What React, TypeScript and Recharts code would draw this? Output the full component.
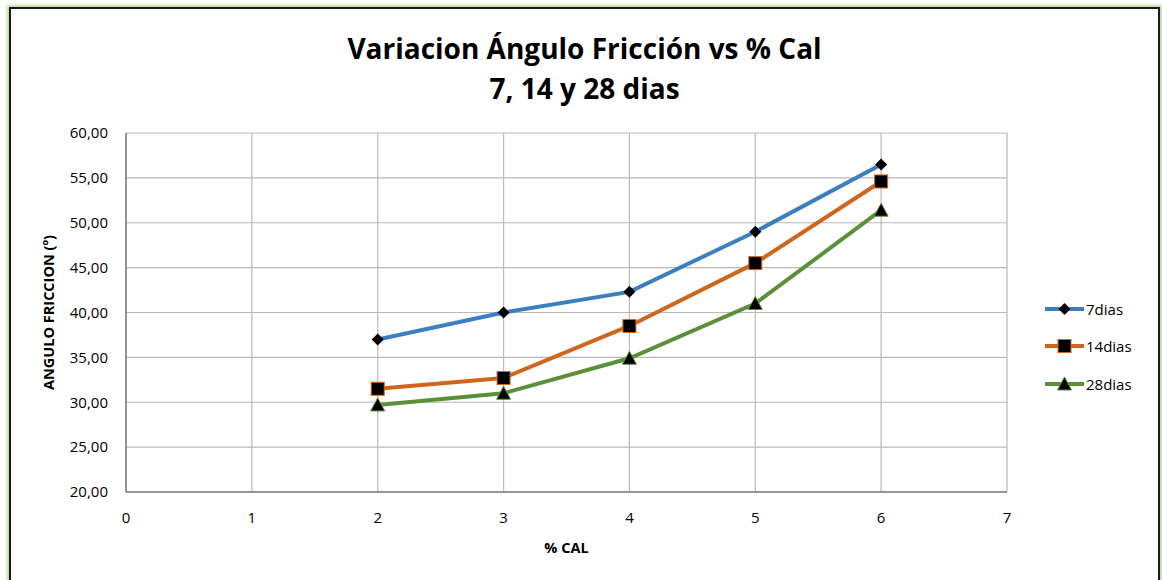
import React from 'react'
import { LineChart, Line, XAxis, YAxis, CartesianGrid, Legend } from 'recharts'

const pctCal = [2, 3, 4, 5, 6]
const dias7 = [37.0, 40.0, 42.3, 49.0, 56.5]
const dias14 = [31.5, 32.7, 38.5, 45.5, 54.6]
const dias28 = [29.7, 31.0, 34.9, 41.0, 51.4]
const xTicks = [0, 1, 2, 3, 4, 5, 6, 7]
const yTicks = [20, 25, 30, 35, 40, 45, 50, 55, 60]

const data = pctCal.map((x, i) => ({ x, d7: dias7[i], d14: dias14[i], d28: dias28[i] }))

const FONT = '"Open Sans", "Noto Sans", sans-serif'
const BLUE = '#3b7fc1'
const ORANGE = '#d0661e'
const GREEN = '#5b8f3a'

type Shape = 'diamond' | 'square' | 'triangle'

const marker = (shape: Shape, cx: number, cy: number, stroke: string, key?: string) => {
  if (shape === 'diamond') {
    return <path key={key} d={`M${cx},${cy - 6}L${cx + 6},${cy}L${cx},${cy + 6}L${cx - 6},${cy}Z`} fill="#000" />
  }
  if (shape === 'square') {
    return <rect key={key} x={cx - 6.5} y={cy - 6.5} width={13} height={13} fill="#000" stroke={stroke} strokeWidth={1} />
  }
  return <path key={key} d={`M${cx},${cy - 7}L${cx + 7},${cy + 6}L${cx - 7},${cy + 6}Z`} fill="#000" stroke={stroke} strokeWidth={1} />
}

const makeDot = (shape: Shape, stroke: string) => (props: any) => {
  const { cx, cy, index } = props
  if (cx == null || cy == null) return <g key={`e-${index}`} />
  return marker(shape, cx, cy, stroke, `${shape}-${index}`)
}

const series = [
  { key: 'd7', name: '7dias', color: BLUE, shape: 'diamond' as Shape },
  { key: 'd14', name: '14dias', color: ORANGE, shape: 'square' as Shape },
  { key: 'd28', name: '28dias', color: GREEN, shape: 'triangle' as Shape },
]

const LegendContent = () => (
  <div style={{ width: 100, fontFamily: FONT, fontSize: 15, color: '#000' }}>
    {series.map((s) => (
      <div key={s.key} style={{ display: 'flex', alignItems: 'center', height: 37.5 }}>
        <svg width={42} height={20}>
          <line x1={1} y1={10} x2={40} y2={10} stroke={s.color} strokeWidth={4} />
          {marker(s.shape, 20.5, 10, s.color)}
        </svg>
        <span>{s.name}</span>
      </div>
    ))}
  </div>
)

const fmt = (v: number) => v.toFixed(2).replace('.', ',')

const App: React.FC = () => (
  <div
    style={{
      position: 'absolute',
      left: 9,
      top: 7,
      width: 1147,
      height: 573,
      border: '2px solid #1a1a1a',
      borderBottom: 'none',
      boxShadow: '0 0 3px 2px #b5d99a',
      background: '#fff',
      fontFamily: FONT,
    }}
  >
    <div
      style={{
        position: 'absolute',
        top: 19,
        left: 0,
        width: '100%',
        textAlign: 'center',
        fontWeight: 700,
        fontSize: 28,
        lineHeight: '40px',
        color: '#000',
        zIndex: 1,
      }}
    >
      <div>Variacion Ángulo Fricción vs % Cal</div>
      <div>7, 14 y 28 dias</div>
    </div>
    <LineChart
      width={1147}
      height={569}
      data={data}
      margin={{ top: 124, right: 51, bottom: 16, left: 0 }}
    >
      <CartesianGrid stroke="#b9b9b9" strokeWidth={1.2} />
      <XAxis
        dataKey="x"
        type="number"
        domain={[0, 7]}
        ticks={xTicks}
        interval={0}
        height={70}
        tickLine={false}
        tickMargin={14}
        axisLine={{ stroke: '#7f7f7f', strokeWidth: 1.5 }}
        tick={{ fill: '#000', fontSize: 15, fontFamily: FONT }}
        label={{ value: '% CAL', position: 'insideBottom', offset: 9, fill: '#000', fontSize: 14.5, fontWeight: 700, fontFamily: FONT }}
      />
      <YAxis
        type="number"
        domain={[20, 60]}
        ticks={yTicks}
        interval={0}
        width={115}
        tickLine={false}
        tickMargin={12}
        tickFormatter={fmt}
        axisLine={{ stroke: '#7f7f7f', strokeWidth: 1.5 }}
        tick={{ fill: '#000', fontSize: 15, fontFamily: FONT }}
        label={{
          content: (props: any) => {
            const vb = props.viewBox
            const cx = vb.x + 37
            const cy = vb.y + vb.height / 2
            return (
              <text
                x={cx}
                y={cy}
                transform={`rotate(-90, ${cx}, ${cy})`}
                textAnchor="middle"
                dominantBaseline="central"
                fontSize={14.5}
                fontWeight={700}
                fontFamily={FONT}
                fill="#000"
              >
                ANGULO FRICCION (º)
              </text>
            )
          },
        }}
      />
      <Legend
        layout="vertical"
        align="right"
        verticalAlign="middle"
        content={<LegendContent />}
        wrapperStyle={{ left: 1033, top: 281, right: 'auto', width: 100 }}
      />
      {series.map((s) => (
        <Line
          key={s.key}
          dataKey={s.key}
          name={s.name}
          stroke={s.color}
          strokeWidth={4}
          dot={makeDot(s.shape, s.color)}
          activeDot={false}
          isAnimationActive={false}
        />
      ))}
    </LineChart>
  </div>
)

export default App
